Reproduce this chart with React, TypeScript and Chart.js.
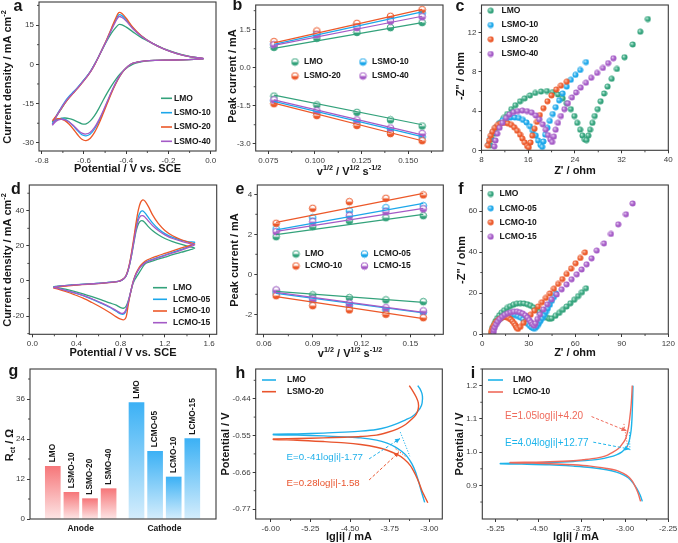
import React, { useEffect, useRef } from 'react';
import { Chart, registerables } from 'chart.js';

Chart.register(...registerables);

const PAGE_W = 678;
const PAGE_H = 543;
const SANS = '"Liberation Sans", Arial, Helvetica, sans-serif';
const INK = '#161616';
const FRAME = '#3a3a3a';
const TICK_TEXT = '#3a3a3a';
const TITLE_SIZE = 11;

const GREEN = '#33a27b';
const BLUE = '#1ca7ea';
const ORANGE = '#ec5829';
const PURPLE = '#a45ac6';
const H_BLUE = '#20b0ea';
const H_RED = '#e9542d';
const I_BLUE = '#1db4ea';
const I_RED = '#ef6a5b';

// ---------- (a) cyclic voltammograms, LSMO series ----------
const aForwardE = [-0.75, -0.73, -0.71, -0.69, -0.67, -0.65, -0.63, -0.61, -0.59, -0.57, -0.55, -0.53, -0.51, -0.49, -0.47, -0.45, -0.435, -0.42, -0.40, -0.37, -0.33, -0.28, -0.22, -0.16, -0.10, -0.035];
const aLmoUp = [-22.0, -19.8, -17.3, -14.8, -12.6, -10.8, -9.0, -7.0, -5.0, -2.8, 0.0, 3.0, 6.2, 9.2, 11.9, 14.0, 15.2, 15.1, 14.2, 12.5, 10.3, 8.2, 5.9, 4.3, 3.0, 2.2];
const aL10Up = [-22.8, -19.5, -16.8, -14.2, -12.2, -10.5, -8.8, -6.9, -4.9, -2.8, 0.0, 3.1, 6.4, 9.8, 13.4, 16.9, 18.9, 18.6, 17.0, 14.0, 10.9, 8.2, 5.8, 4.1, 2.9, 2.2];
const aL20Up = [-21.5, -19.6, -17.2, -14.8, -12.8, -11.0, -9.2, -7.2, -5.2, -3.0, -0.2, 3.0, 6.4, 10.0, 13.8, 17.6, 19.8, 19.4, 17.6, 14.3, 11.0, 8.2, 5.8, 4.1, 2.9, 2.2];
const aL40Up = [-23.3, -19.8, -17.0, -14.5, -12.5, -10.8, -9.0, -7.1, -5.1, -2.9, -0.1, 3.0, 6.3, 9.6, 13.1, 16.4, 18.2, 17.9, 16.5, 13.7, 10.8, 8.2, 5.8, 4.1, 2.9, 2.2];
const aBackwardE = [-0.08, -0.14, -0.20, -0.26, -0.31, -0.35, -0.37, -0.39, -0.41, -0.43, -0.45, -0.47, -0.49, -0.51, -0.53, -0.55, -0.57, -0.59, -0.61, -0.63, -0.65, -0.67, -0.69, -0.71, -0.73, -0.75];
const aLmoDown = [1.9, 1.7, 1.6, 1.5, 1.2, 0.6, 0.0, -0.9, -2.2, -3.8, -5.8, -8.2, -10.9, -13.8, -16.9, -19.6, -21.6, -22.7, -22.7, -22.0, -21.2, -20.7, -20.5, -20.6, -21.1, -22.0];
const aL10Down = [1.9, 1.7, 1.6, 1.5, 1.3, 0.8, 0.4, -0.6, -2.2, -4.4, -7.3, -10.7, -14.5, -18.3, -21.8, -24.7, -26.6, -27.3, -26.9, -25.4, -23.6, -22.0, -21.0, -20.7, -21.2, -22.8];
const aL20Down = [1.9, 1.7, 1.6, 1.5, 1.3, 0.8, 0.4, -0.6, -2.2, -4.5, -7.5, -11.0, -15.0, -19.0, -22.8, -26.0, -28.2, -29.1, -28.6, -26.9, -24.8, -22.9, -21.5, -20.8, -20.8, -21.5];
const aL40Down = [1.9, 1.7, 1.6, 1.5, 1.3, 0.8, 0.4, -0.6, -2.1, -4.3, -7.1, -10.5, -14.2, -17.9, -21.3, -24.1, -25.9, -26.6, -26.3, -25.0, -23.4, -22.0, -21.2, -21.0, -21.6, -23.3];

// ---------- (b) peak current vs v^1/2, LSMO series ----------
const bRootScan = [0.078, 0.101, 0.1225, 0.1405, 0.1575];
const bLmoOx = [0.80, 1.16, 1.39, 1.58, 1.78];
const bLmoRed = [-1.12, -1.47, -1.76, -2.06, -2.30];
const bL10Ox = [0.94, 1.36, 1.67, 1.94, 2.16];
const bL10Red = [-1.31, -1.76, -2.15, -2.45, -2.73];
const bL20Ox = [1.03, 1.45, 1.75, 2.03, 2.29];
const bL20Red = [-1.42, -1.89, -2.28, -2.60, -2.88];
const bL40Ox = [0.90, 1.30, 1.58, 1.84, 2.01];
const bL40Red = [-1.27, -1.70, -2.06, -2.38, -2.60];
const bLmoFitOx = [0.76, 1.78];
const bLmoFitRed = [-1.08, -2.25];
const bL10FitOx = [0.92, 2.20];
const bL10FitRed = [-1.33, -2.72];
const bL20FitOx = [0.98, 2.30];
const bL20FitRed = [-1.40, -2.88];
const bL40FitOx = [0.88, 2.03];
const bL40FitRed = [-1.27, -2.65];

// ---------- (c) Nyquist plots, LSMO series: [Z', -Z''] ----------
const cLmo = [[9.5, 0.5], [9.8, 1.1], [10.2, 1.7], [10.7, 2.3], [11.2, 2.8], [11.8, 3.3], [12.4, 3.7], [13.1, 4.2], [13.8, 4.6], [14.6, 5.0], [15.4, 5.3], [16.3, 5.6], [17.2, 5.85], [18.2, 6.0], [19.2, 6.05], [20.2, 5.95], [21.1, 5.7], [21.9, 5.3], [22.6, 4.8], [23.3, 4.2], [23.9, 3.5], [24.4, 2.8], [24.9, 2.1], [25.3, 1.5], [25.7, 1.1], [26.0, 1.05], [26.3, 1.5], [26.6, 2.1], [27.0, 2.8], [27.4, 3.5], [27.9, 4.2], [28.4, 5.0], [29.0, 5.8], [29.6, 6.5], [30.3, 7.3], [31.2, 8.3], [32.5, 9.5], [33.9, 10.8], [35.2, 12.1], [36.5, 13.4]];
const cL10 = [[9.2, 0.6], [9.5, 1.2], [9.9, 1.8], [10.4, 2.3], [11.0, 2.75], [11.6, 3.05], [12.3, 3.25], [13.0, 3.35], [13.7, 3.35], [14.4, 3.3], [15.1, 3.1], [15.7, 2.85], [16.3, 2.45], [16.8, 2.0], [17.3, 1.5], [17.7, 1.0], [18.1, 0.55], [18.4, 0.35], [18.6, 0.9], [18.9, 1.6], [19.3, 2.3], [19.7, 3.0], [20.2, 3.7], [20.7, 4.4], [21.3, 5.1], [21.9, 5.8], [22.6, 6.5], [23.3, 7.2], [24.1, 7.7], [24.9, 8.2], [25.9, 9.0]];
const cL20 = [[9.1, 0.5], [9.3, 1.0], [9.6, 1.5], [9.9, 1.9], [10.3, 2.3], [10.8, 2.6], [11.3, 2.75], [11.9, 2.8], [12.5, 2.75], [13.1, 2.6], [13.6, 2.35], [14.1, 2.0], [14.6, 1.6], [15.0, 1.2], [15.4, 0.8], [15.8, 0.45], [16.1, 0.3], [16.4, 0.8], [16.7, 1.5], [17.1, 2.2], [17.5, 2.9], [18.0, 3.6], [18.6, 4.3], [19.3, 5.0], [20.0, 5.6], [20.8, 6.2], [21.6, 6.6], [22.6, 7.0]];
const cL40 = [[10.2, 0.4], [10.4, 1.0], [10.7, 1.7], [11.1, 2.3], [11.6, 2.8], [12.2, 3.3], [12.8, 3.65], [13.5, 3.9], [14.2, 4.0], [15.0, 4.05], [15.8, 4.0], [16.6, 3.85], [17.3, 3.55], [17.9, 3.15], [18.5, 2.65], [19.0, 2.1], [19.4, 1.55], [19.8, 1.1], [20.1, 0.85], [20.4, 1.4], [20.7, 2.1], [21.1, 2.8], [21.6, 3.5], [22.2, 4.2], [22.8, 4.8], [23.5, 5.4], [24.2, 5.9], [25.0, 6.4], [25.9, 6.9], [26.8, 7.4], [27.8, 7.9], [28.8, 8.4], [29.7, 8.9], [30.6, 9.4]];

// ---------- (d) cyclic voltammograms, LCMO series ----------
const dForwardE = [0.19, 0.25, 0.35, 0.45, 0.55, 0.65, 0.72, 0.78, 0.81, 0.84, 0.86, 0.88, 0.90, 0.92, 0.94, 0.96, 0.98, 1.00, 1.02, 1.05, 1.09, 1.14, 1.20, 1.27, 1.35, 1.42, 1.47];
const dLmoUp = [-3.3, -2.8, -2.3, -1.9, -1.5, -1.1, -0.7, -0.2, 0.5, 2.0, 4.5, 9.0, 15.0, 22.0, 28.5, 32.5, 34.2, 34.3, 33.2, 31.0, 28.6, 26.3, 24.2, 22.4, 20.8, 19.6, 18.8];
const dC05Up = [-3.6, -2.9, -2.4, -2.0, -1.6, -1.1, -0.7, -0.2, 0.5, 2.1, 4.8, 9.5, 16.0, 23.5, 31.0, 36.5, 39.4, 39.9, 38.8, 36.2, 33.0, 29.8, 27.0, 24.8, 23.2, 22.3, 22.0];
const dC10Up = [-4.0, -3.2, -2.6, -2.1, -1.7, -1.2, -0.8, -0.2, 0.6, 2.2, 5.0, 10.0, 17.0, 25.0, 33.5, 40.5, 44.8, 46.2, 45.5, 42.5, 37.5, 32.8, 28.8, 25.8, 23.5, 22.0, 21.0];
const dC15Up = [-3.6, -3.0, -2.4, -2.0, -1.6, -1.1, -0.7, -0.2, 0.5, 2.0, 4.6, 9.2, 15.5, 22.8, 29.8, 34.8, 37.0, 37.2, 36.4, 34.2, 31.5, 28.8, 26.3, 24.2, 22.6, 21.4, 20.6];
const dBackwardE = [1.42, 1.35, 1.27, 1.20, 1.13, 1.07, 1.02, 0.98, 0.95, 0.93, 0.91, 0.89, 0.87, 0.85, 0.83, 0.80, 0.76, 0.70, 0.62, 0.54, 0.46, 0.38, 0.30, 0.24, 0.19];
const dLmoDown = [17.6, 16.4, 15.0, 13.6, 12.3, 11.0, 9.7, 6.0, 3.0, 1.0, -1.8, -6.5, -11.0, -14.3, -15.5, -15.2, -13.8, -12.5, -10.6, -8.9, -7.3, -5.9, -4.7, -3.9, -3.3];
const dC05Down = [19.8, 18.0, 16.3, 14.8, 13.3, 12.0, 10.6, 8.2, 5.3, 2.6, -1.2, -6.5, -12.0, -16.8, -18.8, -18.8, -17.3, -15.0, -12.6, -10.4, -8.4, -6.8, -5.4, -4.4, -3.6];
const dC10Down = [20.2, 18.8, 17.2, 15.7, 14.2, 12.8, 11.2, 8.8, 5.8, 3.0, -1.0, -6.5, -13.0, -20.5, -22.1, -21.8, -20.5, -18.0, -15.0, -12.3, -9.8, -7.8, -6.0, -4.8, -4.0];
const dC15Down = [19.3, 17.6, 16.0, 14.5, 13.0, 11.7, 10.3, 8.0, 5.2, 2.5, -1.2, -6.3, -11.5, -16.0, -18.2, -18.3, -16.9, -14.7, -12.3, -10.2, -8.2, -6.6, -5.3, -4.3, -3.6];

// ---------- (e) peak current vs v^1/2, LCMO series ----------
const eRootScan = [0.0675, 0.09, 0.1125, 0.135, 0.158];
const eLmoOx = [1.88, 2.38, 2.67, 2.83, 2.93];
const eLmoRed = [-0.83, -1.03, -1.17, -1.28, -1.37];
const eC05Ox = [2.27, 2.83, 3.17, 3.33, 3.43];
const eC05Red = [-0.95, -1.33, -1.57, -1.78, -1.90];
const eC10Ox = [2.55, 3.30, 3.63, 3.80, 3.97];
const eC10Red = [-1.07, -1.57, -1.78, -2.00, -2.17];
const eC15Ox = [2.13, 2.63, 2.93, 3.13, 3.27];
const eC15Red = [-0.78, -1.23, -1.45, -1.67, -1.83];
const eLmoFitOx = [1.98, 3.00];
const eLmoFitRed = [-0.85, -1.40];
const eC05FitOx = [2.22, 3.55];
const eC05FitRed = [-0.95, -1.93];
const eC10FitOx = [2.60, 4.05];
const eC10FitRed = [-1.12, -2.22];
const eC15FitOx = [2.15, 3.30];
const eC15FitRed = [-0.90, -1.90];

// ---------- (f) Nyquist plots, LCMO series: [Z', -Z''] ----------
const fLmo = [[6.1, 0.6], [6.4, 1.9], [6.9, 3.3], [7.6, 4.8], [8.5, 6.3], [9.6, 7.7], [10.9, 9.1], [12.4, 10.4], [14.1, 11.6], [16.0, 12.7], [18.0, 13.6], [20.1, 14.3], [22.3, 14.8], [24.6, 15.0], [26.9, 14.9], [29.1, 14.5], [31.2, 13.8], [33.2, 12.9], [35.1, 11.8], [36.9, 10.7], [38.6, 9.6], [40.2, 8.6], [41.7, 7.9], [43.2, 7.4], [44.8, 7.6], [47.2, 8.9], [49.6, 10.3], [52.0, 11.8], [54.4, 13.4], [56.8, 15.0], [59.3, 16.7], [61.8, 18.5], [64.3, 20.4], [66.9, 22.3]];
const fC05 = [[6.3, 0.5], [6.6, 1.7], [7.2, 3.0], [8.0, 4.3], [9.1, 5.5], [10.4, 6.6], [11.9, 7.6], [13.6, 8.4], [15.4, 9.0], [17.3, 9.3], [19.2, 9.4], [21.1, 9.2], [23.0, 8.7], [24.8, 8.0], [26.4, 7.1], [27.9, 6.1], [29.3, 5.0], [30.6, 4.0], [31.8, 3.2], [33.0, 2.8], [34.2, 2.9], [35.3, 3.8], [36.4, 5.0], [37.5, 6.3], [38.7, 7.7], [39.9, 9.2], [41.1, 10.8], [42.3, 12.5], [43.6, 14.3], [44.9, 16.2], [46.2, 18.0], [47.5, 19.8]];
const fC10 = [[5.8, 0.5], [6.1, 1.6], [6.6, 2.8], [7.3, 4.0], [8.2, 5.1], [9.2, 6.1], [10.4, 6.9], [11.7, 7.6], [13.1, 8.1], [14.5, 8.3], [15.9, 8.2], [17.2, 7.8], [18.4, 7.1], [19.5, 6.2], [20.5, 5.2], [21.4, 4.1], [22.2, 3.1], [23.0, 2.5], [24.5, 3.5], [26.6, 5.4], [28.9, 7.4], [31.2, 9.4], [33.6, 11.4], [36.0, 13.4], [38.5, 15.5], [41.0, 17.6], [43.6, 19.8], [46.2, 22.1], [48.9, 24.4], [51.6, 26.8], [54.4, 29.3], [57.3, 31.9], [60.2, 34.5], [63.2, 37.1], [66.2, 39.8]];
const fC15 = [[7.2, 0.5], [7.5, 1.8], [8.1, 3.2], [8.9, 4.6], [10.0, 6.0], [11.3, 7.3], [12.8, 8.4], [14.5, 9.4], [16.4, 10.1], [18.4, 10.6], [20.4, 10.9], [22.4, 10.9], [24.3, 10.6], [26.1, 10.0], [27.8, 9.1], [29.2, 8.0], [30.4, 6.8], [31.5, 5.7], [32.5, 4.7], [33.5, 4.1], [34.4, 5.2], [35.5, 7.3], [37.2, 9.6], [39.4, 12.0], [41.9, 14.5], [44.7, 16.9], [48.0, 19.3], [51.2, 21.8], [54.4, 24.2], [57.6, 26.7], [60.9, 29.1], [64.1, 31.5], [67.3, 34.0], [70.5, 36.9], [73.8, 40.7], [78.5, 44.2], [83.0, 48.8], [87.7, 53.5], [92.7, 58.4], [97.0, 63.7]];

// ---------- (g) charge-transfer resistance ----------
const gSlot = [1, 2, 3, 4, 5.5, 6.5, 7.5, 8.5];
const gRct = [15.8, 8.0, 6.1, 9.1, 34.9, 20.3, 12.6, 24.1];
const gNames = ['LMO', 'LSMO-10', 'LSMO-20', 'LSMO-40', 'LMO', 'LCMO-05', 'LCMO-10', 'LCMO-15'];
const gGroupAt = [2.5, 7];
const gGroupNames = ['Anode', 'Cathode'];

// ---------- (h) Tafel plots, anode ----------
const hLmoAnodicLgI = [-5.95, -5.5, -5.0, -4.6, -4.3, -4.0, -3.8, -3.6, -3.45, -3.33, -3.22, -3.15, -3.13, -3.14, -3.18, -3.22];
const hLmoAnodicE = [-0.546, -0.545, -0.543, -0.540, -0.537, -0.532, -0.525, -0.514, -0.503, -0.494, -0.478, -0.460, -0.440, -0.425, -0.410, -0.401];
const hLmoCathodicLgI = [-5.95, -5.5, -5.0, -4.6, -4.3, -4.0, -3.8, -3.65, -3.52, -3.42, -3.33, -3.26, -3.20, -3.15, -3.09];
const hLmoCathodicE = [-0.548, -0.549, -0.551, -0.554, -0.557, -0.564, -0.573, -0.584, -0.598, -0.613, -0.635, -0.660, -0.690, -0.718, -0.750];
const hL20AnodicLgI = [-5.95, -5.5, -5.0, -4.6, -4.3, -4.0, -3.8, -3.6, -3.45, -3.33, -3.25, -3.21, -3.21, -3.25, -3.31, -3.38];
const hL20AnodicE = [-0.560, -0.559, -0.557, -0.555, -0.553, -0.549, -0.541, -0.530, -0.517, -0.501, -0.487, -0.470, -0.452, -0.435, -0.418, -0.401];
const hL20CathodicLgI = [-5.95, -5.5, -5.0, -4.6, -4.3, -4.0, -3.8, -3.62, -3.48, -3.36, -3.27, -3.20, -3.14, -3.03];
const hL20CathodicE = [-0.562, -0.564, -0.568, -0.572, -0.577, -0.585, -0.594, -0.606, -0.620, -0.640, -0.665, -0.690, -0.715, -0.751];

// ---------- (i) Tafel plots, cathode ----------
const iLmoAnodicLgI = [-5.17, -4.8, -4.31, -3.9, -3.6, -3.44, -3.28, -3.15, -3.06, -3.0, -2.95, -2.92, -2.895, -2.88, -2.87, -2.862];
const iLmoAnodicE = [0.966, 0.967, 0.969, 0.972, 0.976, 0.979, 0.985, 0.992, 1.000, 1.010, 1.022, 1.040, 1.065, 1.100, 1.150, 1.200];
const iLmoCathodicLgI = [-5.17, -4.8, -4.31, -3.9, -3.6, -3.32, -3.15, -3.03, -2.94, -2.86, -2.80, -2.74, -2.70];
const iLmoCathodicE = [0.965, 0.964, 0.962, 0.958, 0.954, 0.947, 0.940, 0.932, 0.922, 0.907, 0.892, 0.872, 0.852];
const iC10AnodicLgI = [-5.0, -4.6, -4.31, -3.9, -3.73, -3.5, -3.35, -3.21, -3.12, -3.06, -3.0, -2.97, -2.94, -2.92, -2.90, -2.885, -2.875];
const iC10AnodicE = [0.969, 0.970, 0.971, 0.974, 0.977, 0.982, 0.988, 1.000, 1.010, 1.022, 1.037, 1.052, 1.075, 1.100, 1.130, 1.165, 1.200];
const iC10CathodicLgI = [-5.0, -4.6, -4.31, -3.9, -3.6, -3.32, -3.15, -3.03, -2.94, -2.87, -2.82, -2.77, -2.73];
const iC10CathodicE = [0.968, 0.967, 0.965, 0.962, 0.958, 0.951, 0.945, 0.936, 0.926, 0.912, 0.895, 0.875, 0.852];

// ---------- helpers ----------
type Pt = { x: number; y: number };
type Seg = { t: string; sup?: boolean; sub?: boolean };

const zipXY = (xs: number[], ys: number[]): Pt[] => xs.map((x, i) => ({ x, y: ys[i] }));
const pairPts = (pairs: number[][]): Pt[] => pairs.map(([x, y]) => ({ x, y }));

function midTicks(ticks: number[], min: number, max: number) {
  const step = ticks[1] - ticks[0];
  const out: number[] = [];
  for (let v = ticks[0] - step / 2; v <= max + 1e-9; v += step) if (v >= min - 1e-9) out.push(v);
  return out;
}

function drawRich(ctx: CanvasRenderingContext2D, segs: Seg[], x: number, y: number, size: number, rot: number) {
  const small = size * 0.66;
  ctx.save();
  ctx.translate(x, y);
  ctx.rotate(rot);
  ctx.textBaseline = 'middle';
  ctx.textAlign = 'left';
  ctx.fillStyle = INK;
  const widths = segs.map((s) => {
    ctx.font = `bold ${s.sup || s.sub ? small : size}px ${SANS}`;
    return ctx.measureText(s.t).width;
  });
  let cx = -widths.reduce((p, w) => p + w, 0) / 2;
  segs.forEach((s, i) => {
    ctx.font = `bold ${s.sup || s.sub ? small : size}px ${SANS}`;
    const dy = s.sup ? -size * 0.36 : s.sub ? size * 0.28 : 0;
    ctx.fillText(s.t, cx, dy);
    cx += widths[i];
  });
  ctx.restore();
}

function halfMarker(color: string) {
  const c = document.createElement('canvas');
  c.width = 9;
  c.height = 9;
  const g = c.getContext('2d')!;
  const r = 3.3;
  g.beginPath();
  g.arc(4.5, 4.5, r, 0, Math.PI * 2);
  g.fillStyle = '#ffffff';
  g.fill();
  g.beginPath();
  g.arc(4.5, 4.5, r, 0, Math.PI);
  g.closePath();
  g.fillStyle = color;
  g.fill();
  g.beginPath();
  g.arc(4.5, 4.5, r, 0, Math.PI * 2);
  g.strokeStyle = color;
  g.lineWidth = 1;
  g.stroke();
  return c;
}

function sphereMarker(base: string, light: string) {
  const d = 7;
  const c = document.createElement('canvas');
  c.width = d;
  c.height = d;
  const g = c.getContext('2d')!;
  const grd = g.createRadialGradient(2.5, 2.5, 0.2, 3.5, 3.5, 3.4);
  grd.addColorStop(0, light);
  grd.addColorStop(0.55, base);
  grd.addColorStop(1, base);
  g.fillStyle = grd;
  g.beginPath();
  g.arc(3.5, 3.5, 3.0, 0, Math.PI * 2);
  g.fill();
  return c;
}

interface Ax { min: number; max: number; ticks: number[]; digits?: number; labels?: string[]; noTicks?: boolean; bold?: boolean }
interface LegendItem { label: string; color: string; x: number; y: number; tx: number; len?: number; marker?: HTMLCanvasElement }
interface Decor {
  letter: [string, number, number];
  xTitle?: { segs: Seg[]; x: number; y: number };
  yTitle?: { segs: Seg[]; x: number; y: number };
  minorX?: number[];
  minorY?: number[];
  legend?: LegendItem[];
  extra?: (chart: any, ctx: CanvasRenderingContext2D) => void;
}

const Y_BOX = 26;
const X_BOX = 22;

function axisOptions(ax: Ax, horizontal: boolean) {
  return {
    type: 'linear',
    min: ax.min,
    max: ax.max,
    offset: false,
    afterBuildTicks: (s: any) => {
      s.ticks = ax.ticks.map((v) => ({ value: v }));
    },
    afterFit: (s: any) => {
      if (horizontal) s.height = X_BOX;
      else s.width = Y_BOX;
      s.paddingTop = 0;
      s.paddingBottom = 0;
      s.paddingLeft = 0;
      s.paddingRight = 0;
    },
    ticks: {
      autoSkip: false,
      maxRotation: 0,
      minRotation: 0,
      padding: ax.noTicks ? 5 : 2,
      color: ax.bold ? INK : TICK_TEXT,
      font: { family: SANS, size: ax.bold ? 8.5 : 8, weight: ax.bold ? 'bold' : 'normal' },
      callback: (v: number, i: number) => (ax.labels ? ax.labels[i] : Number(v).toFixed(ax.digits ?? 0)),
    },
    grid: { drawOnChartArea: false, drawTicks: !ax.noTicks, tickLength: 3, color: FRAME, lineWidth: 1, offset: false },
    border: { display: false },
  };
}

function decorate(chart: any, d: Decor) {
  const ctx = chart.ctx as CanvasRenderingContext2D;
  const a = chart.chartArea;
  const xs = chart.scales.x;
  const ys = chart.scales.y;
  ctx.save();
  ctx.strokeStyle = FRAME;
  ctx.lineWidth = 1.1;
  ctx.strokeRect(a.left, a.top, a.right - a.left, a.bottom - a.top);
  ctx.beginPath();
  for (const v of d.minorX || []) {
    const p = xs.getPixelForValue(v);
    ctx.moveTo(p, a.bottom);
    ctx.lineTo(p, a.bottom + 2);
  }
  for (const v of d.minorY || []) {
    const p = ys.getPixelForValue(v);
    ctx.moveTo(a.left, p);
    ctx.lineTo(a.left - 2, p);
  }
  ctx.lineWidth = 0.9;
  ctx.stroke();
  if (d.xTitle) drawRich(ctx, d.xTitle.segs, d.xTitle.x, d.xTitle.y, TITLE_SIZE, 0);
  if (d.yTitle) drawRich(ctx, d.yTitle.segs, d.yTitle.x, d.yTitle.y, TITLE_SIZE, -Math.PI / 2);
  ctx.fillStyle = INK;
  ctx.font = `bold 16px ${SANS}`;
  ctx.textAlign = 'center';
  ctx.textBaseline = 'alphabetic';
  ctx.fillText(d.letter[0], d.letter[1], d.letter[2]);
  for (const it of d.legend || []) {
    if (it.marker) {
      ctx.drawImage(it.marker, it.x - it.marker.width / 2, it.y - it.marker.height / 2);
    } else {
      ctx.strokeStyle = it.color;
      ctx.lineWidth = 1.6;
      ctx.beginPath();
      ctx.moveTo(it.x, it.y);
      ctx.lineTo(it.x + (it.len || 12), it.y);
      ctx.stroke();
    }
    ctx.fillStyle = INK;
    ctx.font = `bold 8.5px ${SANS}`;
    ctx.textAlign = 'left';
    ctx.textBaseline = 'middle';
    ctx.fillText(it.label, it.tx, it.y);
  }
  if (d.extra) d.extra(chart, ctx);
  ctx.restore();
}

function panelConfig(type: string, area: number[], x: Ax, y: Ax, datasets: any[], decor: Decor) {
  const [l, t, r, b] = area;
  return {
    type,
    data: { datasets },
    options: {
      responsive: false,
      animation: false,
      devicePixelRatio: 1,
      events: [],
      layout: { padding: { left: l - Y_BOX, top: t, right: PAGE_W - r, bottom: PAGE_H - b - X_BOX } },
      plugins: { legend: { display: false }, tooltip: { enabled: false } },
      scales: { x: axisOptions(x, true), y: axisOptions(y, false) },
    },
    plugins: [{ id: 'decor_' + decor.letter[0], afterDraw: (chart: any) => decorate(chart, decor) }],
  };
}

const curve = (color: string, pts: Pt[], order: number, width = 1.3, tension = 0.3) => ({
  data: pts,
  showLine: true,
  borderColor: color,
  borderWidth: width,
  pointRadius: 0,
  tension,
  fill: false,
  order,
});

const markers = (img: HTMLCanvasElement, pts: Pt[], order: number) => ({
  data: pts,
  showLine: false,
  pointStyle: img,
  pointRadius: 3.5,
  order,
});

const fitLine = (color: string, xs: number[], ends: number[], order: number) =>
  curve(color, [{ x: xs[0], y: ends[0] }, { x: xs[xs.length - 1], y: ends[1] }], order, 1.2, 0);

const lineLegend = (labels: string[], colors: string[], x: number, len: number, tx: number, rows: number[]): LegendItem[] =>
  labels.map((label, i) => ({ label, color: colors[i], x, y: rows[i], tx, len }));

function dashedArrow(ctx: CanvasRenderingContext2D, p1: number[], p2: number[], color: string) {
  ctx.save();
  ctx.strokeStyle = color;
  ctx.fillStyle = color;
  ctx.lineWidth = 1;
  ctx.setLineDash([3, 2]);
  ctx.beginPath();
  ctx.moveTo(p1[0], p1[1]);
  ctx.lineTo(p2[0], p2[1]);
  ctx.stroke();
  ctx.setLineDash([]);
  const ang = Math.atan2(p2[1] - p1[1], p2[0] - p1[0]);
  ctx.translate(p2[0], p2[1]);
  ctx.rotate(ang);
  ctx.beginPath();
  ctx.moveTo(0, 0);
  ctx.lineTo(-5, -2.3);
  ctx.lineTo(-5, 2.3);
  ctx.closePath();
  ctx.fill();
  ctx.restore();
}

function dottedLine(ctx: CanvasRenderingContext2D, p1: number[], p2: number[], color: string) {
  ctx.save();
  ctx.strokeStyle = color;
  ctx.lineWidth = 1;
  ctx.setLineDash([1.2, 1.6]);
  ctx.beginPath();
  ctx.moveTo(p1[0], p1[1]);
  ctx.lineTo(p2[0], p2[1]);
  ctx.stroke();
  ctx.restore();
}

function note(ctx: CanvasRenderingContext2D, text: string, p: number[], color: string, size: number) {
  ctx.save();
  ctx.fillStyle = color;
  ctx.font = `${size}px ${SANS}`;
  ctx.textAlign = 'left';
  ctx.textBaseline = 'middle';
  ctx.fillText(text, p[0], p[1]);
  ctx.restore();
}

const cvTitleX: Seg[] = [{ t: 'Potential / V vs. SCE' }];
const cvTitleY: Seg[] = [{ t: 'Current density / mA cm' }, { t: '-2', sup: true }];
const rootTitleX: Seg[] = [{ t: 'v' }, { t: '1/2', sup: true }, { t: ' / V' }, { t: '1/2', sup: true }, { t: ' s' }, { t: '-1/2', sup: true }];
const peakTitleY: Seg[] = [{ t: 'Peak current / mA' }];
const zReTitle: Seg[] = [{ t: "Z' / ohm" }];
const zImTitle: Seg[] = [{ t: '-Z" / ohm' }];
const tafelTitleX: Seg[] = [{ t: 'lg|i| / mA' }];
const tafelTitleY: Seg[] = [{ t: 'Potential / V' }];

function buildPanels() {
  const half = { g: halfMarker(GREEN), b: halfMarker(BLUE), o: halfMarker(ORANGE), p: halfMarker(PURPLE) };
  const ball = {
    g: sphereMarker(GREEN, '#bfeedd'),
    b: sphereMarker(BLUE, '#c4ebfb'),
    o: sphereMarker(ORANGE, '#fcc8b4'),
    p: sphereMarker(PURPLE, '#e6ccf2'),
  };
  const lsmoColors = [GREEN, BLUE, ORANGE, PURPLE];

  // (a)
  const axA: Ax = { min: -0.813, max: 0.025, ticks: [-0.8, -0.6, -0.4, -0.2, 0.0], digits: 1 };
  const ayA: Ax = { min: -33.1, max: 23.8, ticks: [-30, -15, 0, 15], digits: 0 };
  const panelA = panelConfig('scatter', [39, 2, 216, 151], axA, ayA, [
    curve(GREEN, [...zipXY(aForwardE, aLmoUp), ...zipXY(aBackwardE, aLmoDown)], 4),
    curve(BLUE, [...zipXY(aForwardE, aL10Up), ...zipXY(aBackwardE, aL10Down)], 3),
    curve(ORANGE, [...zipXY(aForwardE, aL20Up), ...zipXY(aBackwardE, aL20Down)], 2),
    curve(PURPLE, [...zipXY(aForwardE, aL40Up), ...zipXY(aBackwardE, aL40Down)], 1),
  ], {
    letter: ['a', 18, 11],
    xTitle: { segs: cvTitleX, x: 127.5, y: 169 },
    yTitle: { segs: cvTitleY, x: 8, y: 77 },
    minorX: midTicks(axA.ticks, axA.min, axA.max),
    minorY: midTicks(ayA.ticks, ayA.min, ayA.max),
    legend: lineLegend(['LMO', 'LSMO-10', 'LSMO-20', 'LSMO-40'], lsmoColors, 161, 11, 174, [98.3, 112.7, 127, 141.3]),
  });

  // (b)
  const axB: Ax = { min: 0.0682, max: 0.1687, ticks: [0.075, 0.1, 0.125, 0.15], digits: 3 };
  const ayB: Ax = { min: -3.286, max: 2.474, ticks: [-3, -1.5, 0, 1.5], digits: 1 };
  const panelB = panelConfig('scatter', [255.7, 2, 443, 151], axB, ayB, [
    markers(half.g, [...zipXY(bRootScan, bLmoOx), ...zipXY(bRootScan, bLmoRed)], 8),
    markers(half.b, [...zipXY(bRootScan, bL10Ox), ...zipXY(bRootScan, bL10Red)], 7),
    markers(half.o, [...zipXY(bRootScan, bL20Ox), ...zipXY(bRootScan, bL20Red)], 6),
    markers(half.p, [...zipXY(bRootScan, bL40Ox), ...zipXY(bRootScan, bL40Red)], 5),
    fitLine(GREEN, bRootScan, bLmoFitOx, 4), fitLine(GREEN, bRootScan, bLmoFitRed, 4),
    fitLine(BLUE, bRootScan, bL10FitOx, 3), fitLine(BLUE, bRootScan, bL10FitRed, 3),
    fitLine(ORANGE, bRootScan, bL20FitOx, 2), fitLine(ORANGE, bRootScan, bL20FitRed, 2),
    fitLine(PURPLE, bRootScan, bL40FitOx, 1), fitLine(PURPLE, bRootScan, bL40FitRed, 1),
  ], {
    letter: ['b', 237.5, 9.5],
    xTitle: { segs: rootTitleX, x: 349, y: 172 },
    yTitle: { segs: peakTitleY, x: 233, y: 76 },
    minorX: midTicks(axB.ticks, axB.min, axB.max),
    minorY: midTicks(ayB.ticks, ayB.min, ayB.max),
    legend: [
      { label: 'LMO', color: GREEN, x: 295, y: 62, tx: 304, marker: half.g },
      { label: 'LSMO-10', color: BLUE, x: 363, y: 62, tx: 372, marker: half.b },
      { label: 'LSMO-20', color: ORANGE, x: 295, y: 76, tx: 304, marker: half.o },
      { label: 'LSMO-40', color: PURPLE, x: 363, y: 76, tx: 372, marker: half.p },
    ],
  });

  // (c)
  const axC: Ax = { min: 8, max: 40, ticks: [8, 16, 24, 32, 40], digits: 0 };
  const ayC: Ax = { min: 0, max: 14.83, ticks: [0, 4, 8, 12], digits: 0 };
  const panelC = panelConfig('scatter', [481.5, 2, 668.3, 150.3], axC, ayC, [
    markers(ball.g, pairPts(cLmo), 4),
    markers(ball.b, pairPts(cL10), 3),
    markers(ball.o, pairPts(cL20), 2),
    markers(ball.p, pairPts(cL40), 1),
  ], {
    letter: ['c', 460, 10.5],
    xTitle: { segs: zReTitle, x: 575, y: 171 },
    yTitle: { segs: zImTitle, x: 461, y: 76 },
    minorX: midTicks(axC.ticks, axC.min, axC.max),
    minorY: midTicks(ayC.ticks, ayC.min, ayC.max),
    legend: [
      { label: 'LMO', color: GREEN, x: 490.7, y: 10.7, tx: 501.5, marker: ball.g },
      { label: 'LSMO-10', color: BLUE, x: 490.7, y: 25, tx: 501.5, marker: ball.b },
      { label: 'LSMO-20', color: ORANGE, x: 490.7, y: 39.3, tx: 501.5, marker: ball.o },
      { label: 'LSMO-40', color: PURPLE, x: 490.7, y: 54, tx: 501.5, marker: ball.p },
    ],
  });

  // (d)
  const axD: Ax = { min: -0.027, max: 1.669, ticks: [0, 0.4, 0.8, 1.2, 1.6], digits: 1 };
  const ayD: Ax = { min: -30.4, max: 54.7, ticks: [-20, 0, 20, 40], digits: 0 };
  const panelD = panelConfig('scatter', [29.3, 185, 216.7, 334.3], axD, ayD, [
    curve(GREEN, [...zipXY(dForwardE, dLmoUp), ...zipXY(dBackwardE, dLmoDown)], 4),
    curve(BLUE, [...zipXY(dForwardE, dC05Up), ...zipXY(dBackwardE, dC05Down)], 3),
    curve(ORANGE, [...zipXY(dForwardE, dC10Up), ...zipXY(dBackwardE, dC10Down)], 2),
    curve(PURPLE, [...zipXY(dForwardE, dC15Up), ...zipXY(dBackwardE, dC15Down)], 1),
  ], {
    letter: ['d', 16, 193.5],
    xTitle: { segs: cvTitleX, x: 123, y: 353 },
    yTitle: { segs: cvTitleY, x: 7.5, y: 260 },
    minorX: midTicks(axD.ticks, axD.min, axD.max),
    minorY: midTicks(ayD.ticks, ayD.min, ayD.max),
    legend: lineLegend(['LMO', 'LCMO-05', 'LCMO-10', 'LCMO-15'], lsmoColors, 153, 14, 173, [287.7, 299.3, 311, 322.7]),
  });

  // (e)
  const axE: Ax = { min: 0.0559, max: 0.1703, ticks: [0.06, 0.09, 0.12, 0.15], digits: 2 };
  const ayE: Ax = { min: -3.0, max: 4.465, ticks: [-2, 0, 2, 4], digits: 0 };
  const panelE = panelConfig('scatter', [257.3, 185, 443.3, 334.3], axE, ayE, [
    markers(half.g, [...zipXY(eRootScan, eLmoOx), ...zipXY(eRootScan, eLmoRed)], 8),
    markers(half.b, [...zipXY(eRootScan, eC05Ox), ...zipXY(eRootScan, eC05Red)], 7),
    markers(half.o, [...zipXY(eRootScan, eC10Ox), ...zipXY(eRootScan, eC10Red)], 6),
    markers(half.p, [...zipXY(eRootScan, eC15Ox), ...zipXY(eRootScan, eC15Red)], 5),
    fitLine(GREEN, eRootScan, eLmoFitOx, 4), fitLine(GREEN, eRootScan, eLmoFitRed, 4),
    fitLine(BLUE, eRootScan, eC05FitOx, 3), fitLine(BLUE, eRootScan, eC05FitRed, 3),
    fitLine(ORANGE, eRootScan, eC10FitOx, 2), fitLine(ORANGE, eRootScan, eC10FitRed, 2),
    fitLine(PURPLE, eRootScan, eC15FitOx, 1), fitLine(PURPLE, eRootScan, eC15FitRed, 1),
  ], {
    letter: ['e', 240, 193.5],
    xTitle: { segs: rootTitleX, x: 350, y: 353.5 },
    yTitle: { segs: peakTitleY, x: 234.5, y: 260 },
    minorX: midTicks(axE.ticks, axE.min, axE.max),
    minorY: midTicks(ayE.ticks, ayE.min, ayE.max),
    legend: [
      { label: 'LMO', color: GREEN, x: 296, y: 254, tx: 305, marker: half.g },
      { label: 'LCMO-05', color: BLUE, x: 364.5, y: 254, tx: 373.5, marker: half.b },
      { label: 'LCMO-10', color: ORANGE, x: 296, y: 266, tx: 305, marker: half.o },
      { label: 'LCMO-15', color: PURPLE, x: 364.5, y: 266, tx: 373.5, marker: half.p },
    ],
  });

  // (f)
  const axF: Ax = { min: 0, max: 120, ticks: [0, 30, 60, 90, 120], digits: 0 };
  const ayF: Ax = { min: 0, max: 72.7, ticks: [0, 20, 40, 60], digits: 0 };
  const panelF = panelConfig('scatter', [482.3, 185, 668.3, 334], axF, ayF, [
    markers(ball.g, pairPts(fLmo), 4),
    markers(ball.b, pairPts(fC05), 3),
    markers(ball.o, pairPts(fC10), 2),
    markers(ball.p, pairPts(fC15), 1),
  ], {
    letter: ['f', 461, 193.5],
    xTitle: { segs: zReTitle, x: 575, y: 352.5 },
    yTitle: { segs: zImTitle, x: 461.5, y: 260 },
    minorX: midTicks(axF.ticks, axF.min, axF.max),
    minorY: midTicks(ayF.ticks, ayF.min, ayF.max),
    legend: [
      { label: 'LMO', color: GREEN, x: 490.7, y: 194, tx: 499.5, marker: ball.g },
      { label: 'LCMO-05', color: BLUE, x: 490.7, y: 208.3, tx: 499.5, marker: ball.b },
      { label: 'LCMO-10', color: ORANGE, x: 490.7, y: 222.3, tx: 499.5, marker: ball.o },
      { label: 'LCMO-15', color: PURPLE, x: 490.7, y: 236.7, tx: 499.5, marker: ball.p },
    ],
  });

  // (g)
  const axG: Ax = { min: -0.226, max: 9.774, ticks: gGroupAt, labels: gGroupNames, noTicks: true, bold: true };
  const ayG: Ax = { min: 0, max: 45, ticks: [0, 12, 24, 36], digits: 0 };
  const barFill = (ctx: any) => {
    const i = ctx.dataIndex;
    const anode = typeof i === 'number' && i < 4;
    const top = anode ? '#f6777a' : '#3cb1f5';
    const bottom = anode ? '#fde5e5' : '#d4edfc';
    const chart = ctx.chart;
    if (typeof i !== 'number' || !chart.chartArea) return top;
    const ys = chart.scales.y;
    const y1 = ys.getPixelForValue(gRct[i]);
    const y0 = ys.getPixelForValue(0);
    const grd = chart.ctx.createLinearGradient(0, y1, 0, y0);
    grd.addColorStop(0, top);
    grd.addColorStop(1, bottom);
    return grd;
  };
  const panelG = panelConfig('bar', [30, 369, 216, 519], axG, ayG, [
    { data: zipXY(gSlot, gRct), backgroundColor: barFill, borderWidth: 0, barThickness: 15 },
  ], {
    letter: ['g', 13.5, 376],
    yTitle: { segs: [{ t: 'R' }, { t: 'ct', sub: true }, { t: ' / Ω' }], x: 9.5, y: 445 },
    minorY: midTicks(ayG.ticks, ayG.min, ayG.max),
    extra: (chart, ctx) => {
      const xs = chart.scales.x;
      const ys = chart.scales.y;
      ctx.fillStyle = INK;
      ctx.font = `bold 8.3px ${SANS}`;
      ctx.textAlign = 'left';
      ctx.textBaseline = 'middle';
      gNames.forEach((name, i) => {
        ctx.save();
        ctx.translate(xs.getPixelForValue(gSlot[i]), ys.getPixelForValue(gRct[i]) - 4);
        ctx.rotate(-Math.PI / 2);
        ctx.fillText(name, 0, 0);
        ctx.restore();
      });
    },
  });

  // (h)
  const axH: Ax = { min: -6.284, max: -2.756, ticks: [-6, -5.25, -4.5, -3.75, -3], digits: 2 };
  const ayH: Ax = { min: -0.7996, max: -0.3512, ticks: [-0.77, -0.66, -0.55, -0.44], digits: 2 };
  const panelH = panelConfig('scatter', [255.7, 369, 442.3, 519], axH, ayH, [
    curve(H_BLUE, [...zipXY(hLmoAnodicLgI, hLmoAnodicE).reverse(), ...zipXY(hLmoCathodicLgI, hLmoCathodicE)], 2, 1.4, 0.3),
    curve(H_RED, [...zipXY(hL20AnodicLgI, hL20AnodicE).reverse(), ...zipXY(hL20CathodicLgI, hL20CathodicE)], 1, 1.4, 0.3),
  ], {
    letter: ['h', 240.5, 377.5],
    xTitle: { segs: tafelTitleX, x: 349, y: 536.5 },
    yTitle: { segs: tafelTitleY, x: 225.5, y: 444 },
    minorX: midTicks(axH.ticks, axH.min, axH.max),
    minorY: midTicks(ayH.ticks, ayH.min, ayH.max),
    legend: lineLegend(['LMO', 'LSMO-20'], [H_BLUE, H_RED], 262, 14, 287, [380, 391.7]),
    extra: (chart, ctx) => {
      const xs = chart.scales.x;
      const ys = chart.scales.y;
      const P = (x: number, y: number) => [xs.getPixelForValue(x), ys.getPixelForValue(y)];
      note(ctx, 'E=0.-41log|i|-1.77', P(-5.70, -0.6155), H_BLUE, 9.7);
      note(ctx, 'E=0.28log|i|-1.58', P(-5.70, -0.693), H_RED, 9.7);
      dashedArrow(ctx, P(-4.14, -0.620), P(-3.555, -0.559), H_BLUE);
      dashedArrow(ctx, P(-4.14, -0.683), P(-3.574, -0.600), H_RED);
      dottedLine(ctx, P(-3.55, -0.540), P(-3.37, -0.612), H_BLUE);
      dottedLine(ctx, P(-3.64, -0.590), P(-3.44, -0.614), H_RED);
    },
  });

  // (i)
  const axI: Ax = { min: -5.483, max: -2.248, ticks: [-5.25, -4.5, -3.75, -3, -2.25], digits: 2 };
  const ayI: Ax = { min: 0.799, max: 1.25, ticks: [0.9, 1.0, 1.1, 1.2], digits: 1 };
  const panelI = panelConfig('scatter', [482.3, 369, 668.3, 519], axI, ayI, [
    curve(I_BLUE, [...zipXY(iLmoAnodicLgI, iLmoAnodicE).reverse(), ...zipXY(iLmoCathodicLgI, iLmoCathodicE)], 2, 1.4, 0.3),
    curve(I_RED, [...zipXY(iC10AnodicLgI, iC10AnodicE).reverse(), ...zipXY(iC10CathodicLgI, iC10CathodicE)], 1, 1.4, 0.3),
  ], {
    letter: ['i', 473, 377.5],
    xTitle: { segs: tafelTitleX, x: 576, y: 536.5 },
    yTitle: { segs: tafelTitleY, x: 460, y: 444 },
    minorX: midTicks(axI.ticks, axI.min, axI.max),
    minorY: midTicks(ayI.ticks, ayI.min, ayI.max),
    legend: lineLegend(['LMO', 'LCMO-10'], [I_BLUE, I_RED], 488, 15, 513, [380, 392]),
    extra: (chart, ctx) => {
      const xs = chart.scales.x;
      const ys = chart.scales.y;
      const P = (x: number, y: number) => [xs.getPixelForValue(x), ys.getPixelForValue(y)];
      note(ctx, 'E=1.05log|i|+4.20', P(-5.088, 1.107), I_RED, 10);
      note(ctx, 'E=4.04log|i|+12.77', P(-5.088, 1.027), I_BLUE, 10);
      dashedArrow(ctx, P(-3.583, 1.107), P(-2.974, 1.064), I_RED);
      dashedArrow(ctx, P(-3.553, 1.030), P(-2.917, 1.009), I_BLUE);
      dottedLine(ctx, P(-3.02, 1.085), P(-2.95, 1.012), I_RED);
      dottedLine(ctx, P(-2.925, 1.06), P(-2.915, 1.004), I_BLUE);
    },
  });

  return [panelA, panelB, panelC, panelD, panelE, panelF, panelG, panelH, panelI];
}

export default function App() {
  const refs = useRef<(HTMLCanvasElement | null)[]>([]);

  useEffect(() => {
    const configs = buildPanels();
    const charts = configs.map((cfg, i) => new Chart(refs.current[i] as HTMLCanvasElement, cfg as any));
    return () => charts.forEach((c) => c.destroy());
  }, []);

  return (
    <div style={{ position: 'absolute', left: 0, top: 0, width: PAGE_W, height: PAGE_H, background: '#ffffff', overflow: 'hidden' }}>
      {Array.from({ length: 9 }).map((_, i) => (
        <canvas
          key={i}
          ref={(el) => {
            refs.current[i] = el;
          }}
          width={PAGE_W}
          height={PAGE_H}
          style={{ position: 'absolute', left: 0, top: 0, width: PAGE_W, height: PAGE_H }}
        />
      ))}
    </div>
  );
}
